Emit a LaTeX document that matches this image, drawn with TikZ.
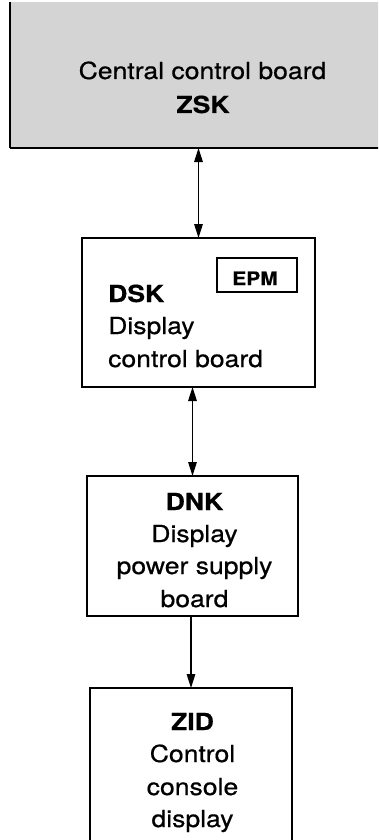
\documentclass[tikz,border=0pt]{standalone}
\usepackage{fontspec}
\setmainfont{TeX Gyre Heros}[FakeStretch=1.13, FakeBold=0.6]
\usetikzlibrary{arrows.meta}
\begin{document}
\begin{tikzpicture}[x=1pt, y=-1pt,
  board/.style={draw, line width=2pt, inner sep=0pt, outer sep=0pt},
  txt/.style={inner sep=0pt, font=\fontsize{23.5}{28}\selectfont},
  tip/.tip={Triangle[length=14pt, width=8.5pt]},
  link/.style={line width=1.5pt, arrows={-tip}},
  biglink/.style={line width=1.5pt, arrows={tip-tip}}]
  \useasboundingbox (0,0) rectangle (378,840);
  \clip (0,0) rectangle (378,840);

  % central control board (shaded, runs off the right edge)
  \node[fill=black!17, inner sep=0pt, outer sep=0pt, minimum width=390pt, minimum height=146pt]
    (zsk) at (205,75) {};
  \draw[line width=1.2pt] (zsk.north west) -- (zsk.south west);
  \draw[line width=2.4pt] (zsk.south west) -- (zsk.south east);
  \node[txt, anchor=base] (zsk-t1) at (202.5,79) {Central control board};
  \node[txt, anchor=base] (zsk-t2) at (203,113) {\bfseries ZSK};

  % display control board
  \node[board, minimum width=233pt, minimum height=149pt] (dsk) at (198.5,312.5) {};
  \node[draw, line width=1.5pt, inner sep=0pt, minimum width=80pt, minimum height=34pt]
    (epm) at (257,275) {};
  \node[inner sep=0pt, anchor=base, font=\fontsize{18.5}{22}\selectfont] (epm-t) at (255,285) {\bfseries EPM};
  \node[txt, anchor=base west] (dsk-t1) at (108,302) {\bfseries DSK};
  \node[txt, anchor=base west] (dsk-t2) at (108,334) {Display};
  \node[txt, anchor=base west] (dsk-t3) at (108,367) {control board};

  % display power supply board
  \node[board, minimum width=211pt, minimum height=140pt] (dnk) at (192.5,546) {};
  \node[txt, anchor=base] (dnk-t1) at (194.5,510) {\bfseries DNK};
  \node[txt, anchor=base] (dnk-t2) at (194.5,542) {Display};
  \node[txt, anchor=base] (dnk-t3) at (194.5,574) {power supply};
  \node[txt, anchor=base] (dnk-t4) at (194.5,607) {board};

  % control console display (runs off the bottom edge)
  \node[board, minimum width=202pt, minimum height=172pt] (zid) at (191,774) {};
  \node[txt, anchor=base] (zid-t1) at (192.5,730) {\bfseries ZID};
  \node[txt, anchor=base] (zid-t2) at (192.5,762) {Control};
  \node[txt, anchor=base] (zid-t3) at (192.5,795) {console};
  \node[txt, anchor=base] (zid-t4) at (192.5,827) {display};

  % connections
  \draw[biglink] (zsk.south -| dsk.north) -- (dsk.north);
  \draw[biglink] (dsk.south -| dnk.north) -- (dnk.north);
  \draw[link] (dnk.south -| zid.north) -- (zid.north);
\end{tikzpicture}
\end{document}
